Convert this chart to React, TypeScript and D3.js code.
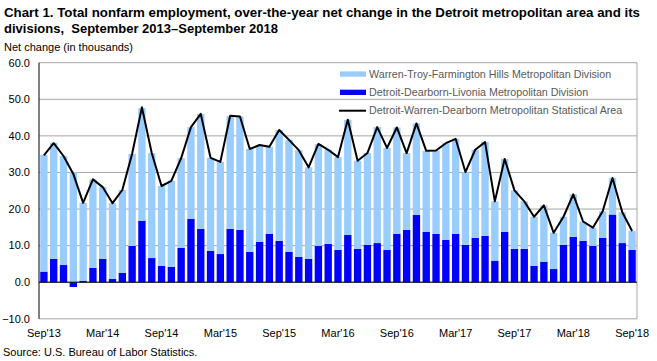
import * as d3 from "d3";

// Sep 2013 .. Sep 2018, monthly
const months = [
  "Sep13", "Oct13", "Nov13", "Dec13",
  "Jan14", "Feb14", "Mar14", "Apr14", "May14", "Jun14", "Jul14", "Aug14", "Sep14", "Oct14", "Nov14", "Dec14",
  "Jan15", "Feb15", "Mar15", "Apr15", "May15", "Jun15", "Jul15", "Aug15", "Sep15", "Oct15", "Nov15", "Dec15",
  "Jan16", "Feb16", "Mar16", "Apr16", "May16", "Jun16", "Jul16", "Aug16", "Sep16", "Oct16", "Nov16", "Dec16",
  "Jan17", "Feb17", "Mar17", "Apr17", "May17", "Jun17", "Jul17", "Aug17", "Sep17", "Oct17", "Nov17", "Dec17",
  "Jan18", "Feb18", "Mar18", "Apr18", "May18", "Jun18", "Jul18", "Aug18", "Sep18",
];

// Detroit-Dearborn-Livonia Metropolitan Division
const detroit = [
  2.9, 6.4, 4.7, -1.3,
  0.4, 3.9, 6.4, 0.9, 2.6, 9.9, 16.8, 6.6, 4.5, 4.2, 9.4, 17.3,
  14.6, 8.6, 7.7, 14.6, 14.3, 8.3, 11.0, 13.2, 11.3, 8.3, 6.9, 6.4,
  9.9, 10.5, 8.8, 12.9, 9.1, 10.2, 10.7, 8.8, 13.2, 14.3, 18.4, 13.8,
  13.2, 11.6, 13.2, 10.2, 12.1, 12.7, 5.8, 13.8, 9.1, 9.1, 4.5, 5.6,
  3.6, 10.2, 12.4, 11.3, 9.9, 12.1, 18.5, 10.7, 8.8,
];

// Warren-Troy-Farmington Hills Metropolitan Division
const warren = [
  31.9, 31.7, 29.8, 30.1,
  21.3, 24.2, 19.6, 20.7, 22.6, 25.2, 30.8, 28.7, 21.8, 23.5, 24.5, 25.1,
  31.4, 25.4, 25.2, 30.8, 31.0, 28.1, 26.5, 23.8, 30.3, 30.6, 29.2, 25.0,
  27.9, 25.7, 25.4, 31.5, 24.1, 25.1, 31.7, 27.9, 29.1, 21.0, 25.0, 22.1,
  22.8, 26.4, 26.0, 19.9, 24.1, 25.6, 16.3, 19.9, 16.0, 13.0, 13.4, 15.4,
  9.9, 7.7, 11.6, 5.3, 5.0, 7.3, 10.0, 8.4, 5.2,
];

// Detroit-Warren-Dearborn Metropolitan Statistical Area
const msa = [
  34.7, 38.0, 34.5, 29.6,
  21.7, 28.1, 26.0, 21.6, 25.2, 35.1, 47.8, 35.3, 26.3, 27.7, 33.9, 42.4,
  46.0, 34.0, 32.9, 45.5, 45.3, 36.4, 37.5, 37.0, 41.6, 38.9, 36.1, 31.4,
  37.8, 36.2, 34.2, 44.4, 33.2, 35.3, 42.4, 36.7, 42.3, 35.3, 43.4, 35.9,
  36.0, 38.0, 39.2, 30.1, 36.2, 38.3, 22.1, 33.7, 25.1, 22.1, 17.9, 21.0,
  13.5, 17.9, 24.0, 16.6, 14.9, 19.4, 28.5, 19.1, 14.0,
];

const tickMonths = ["Sep13", "Mar14", "Sep14", "Mar15", "Sep15", "Mar16", "Sep16", "Mar17", "Sep17", "Mar18", "Sep18"];
const tickLabels = ["Sep'13", "Mar'14", "Sep'14", "Mar'15", "Sep'15", "Mar'16", "Sep'16", "Mar'17", "Sep'17", "Mar'18", "Sep'18"];
const yTicks = [-10, 0, 10, 20, 30, 40, 50, 60];

const seriesNames = [
  "Warren-Troy-Farmington Hills Metropolitan Division",
  "Detroit-Dearborn-Livonia Metropolitan Division",
  "Detroit-Warren-Dearborn Metropolitan Statistical Area",
];

const W = 657;
const H = 361;
const FONT = "Arial, 'Liberation Sans', sans-serif";
const LIGHT = "#99ccff";
const DARK = "#0000ff";

export default function App() {
  const left = 39;
  const right = 637;
  const top = 62.7;
  const bottom = 318.8;

  const x = d3.scaleBand<string>().domain(months).range([left, right]).paddingInner(0.25).paddingOuter(0.125);
  const y = d3.scaleLinear().domain([-10, 60]).range([bottom, top]);

  const rows = months.map((m, i) => ({ m, detroit: detroit[i], warren: warren[i] }));
  const stacked = d3
    .stack<{ m: string; detroit: number; warren: number }>()
    .keys(["detroit", "warren"])
    .offset(d3.stackOffsetDiverging)(rows);

  const line = d3
    .line<number>()
    .x((_, i) => (x(months[i]) ?? 0) + x.bandwidth() / 2)
    .y((d) => y(d));

  const colors = [DARK, LIGHT];
  const legX = 340;
  const legY = [74, 92.3, 110.7];

  return (
    <div style={{ position: "fixed", left: 0, top: 0 }}>
      <svg width={W} height={H} style={{ display: "block", background: "#fff" }} fontFamily={FONT}>
        <text x={4} y={17} fontSize={13} fontWeight="bold" fill="#000" textLength={636} lengthAdjust="spacingAndGlyphs">
          Chart 1. Total nonfarm employment, over-the-year net change in the Detroit metropolitan area and its
        </text>
        <text x={4} y={33} fontSize={13} fontWeight="bold" fill="#000" style={{ whiteSpace: "pre" }} textLength={274} lengthAdjust="spacingAndGlyphs">
          {"divisions,  September 2013\u2013September 2018"}
        </text>
        <text x={4} y={51} fontSize={11} fill="#000">
          Net change (in thousands)
        </text>

        {/* grid */}
        {yTicks.map((t) => (
          <line key={t} x1={left} x2={right} y1={y(t)} y2={y(t)} stroke="#a6a6a6" strokeWidth={1} />
        ))}
        <line x1={right} x2={right} y1={top} y2={bottom} stroke="#a6a6a6" strokeWidth={1} />

        {/* y labels */}
        {yTicks.map((t) => (
          <text key={t} x={30} y={y(t)} dy="0.35em" textAnchor="end" fontSize={11} fill="#000">
            {d3.format(".1f")(t)}
          </text>
        ))}

        {/* bars */}
        {stacked.map((s, si) => (
          <g key={s.key} fill={colors[si]}>
            {s.map((d, i) => (
              <rect
                key={i}
                x={x(months[i])}
                width={x.bandwidth()}
                y={y(Math.max(d[0], d[1]))}
                height={Math.abs(y(d[0]) - y(d[1]))}
              />
            ))}
          </g>
        ))}

        {/* axes */}
        <line x1={left} x2={right} y1={y(0)} y2={y(0)} stroke="#000" strokeWidth={1} />
        <line x1={left} x2={left} y1={top} y2={bottom} stroke="#000" strokeWidth={1} />

        {/* MSA line */}
        <path d={line(msa) ?? ""} fill="none" stroke="#000" strokeWidth={2} strokeLinejoin="round" />

        {/* x labels */}
        {tickMonths.map((m, i) => (
          <text key={m} x={(x(m) ?? 0) + x.bandwidth() / 2} y={333} dy="0.35em" textAnchor="middle" fontSize={11} fill="#000">
            {tickLabels[i]}
          </text>
        ))}

        {/* legend */}
        <rect x={legX} y={legY[0] - 2.6} width={26} height={5.3} fill={LIGHT} />
        <rect x={legX} y={legY[1] - 2.6} width={26} height={5.3} fill={DARK} />
        <line x1={legX - 1} x2={legX + 26} y1={legY[2]} y2={legY[2]} stroke="#000" strokeWidth={2} />
        {seriesNames.map((n, i) => (
          <text key={n} x={369} y={legY[i]} dy="0.35em" fontSize={10.7} fill="#595959">
            {n}
          </text>
        ))}

        <text x={3} y={352} dy="0.35em" fontSize={11} fill="#000">
          Source: U.S. Bureau of Labor Statistics.
        </text>
      </svg>
    </div>
  );
}
